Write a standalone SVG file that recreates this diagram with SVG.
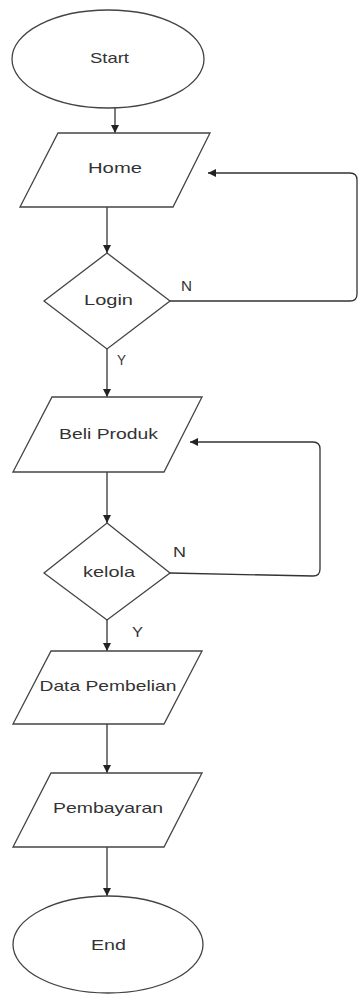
<svg xmlns="http://www.w3.org/2000/svg" width="358" height="994" viewBox="0 0 358 994">
  <style>
    .shape { fill: #ffffff; stroke: #444444; stroke-width: 1.3; }
    .edge { fill: none; stroke: #333333; stroke-width: 1.3; }
    .label { font-family: "Liberation Sans", Arial, sans-serif; font-size: 15px; fill: #333333; text-anchor: middle; }
    .tag { font-family: "Liberation Sans", Arial, sans-serif; font-size: 14px; fill: #333333; }
  </style>
  <defs>
    <marker id="arrow" viewBox="0 0 10 10" refX="10" refY="5" markerWidth="8" markerHeight="8" markerUnits="userSpaceOnUse" orient="auto">
      <path d="M0,0 L10,5 L0,10 z" fill="#222222"/>
    </marker>
  </defs>
  <rect width="358" height="994" fill="#ffffff"/>

  <g id="connectors">
    <path class="edge" d="M115,108 L115,133" marker-end="url(#arrow)"/>
    <path class="edge" d="M107,207 L107,253" marker-end="url(#arrow)"/>
    <path class="edge" d="M107,349 L107,397" marker-end="url(#arrow)"/>
    <path class="edge" d="M107,472 L107,523" marker-end="url(#arrow)"/>
    <path class="edge" d="M107,620 L107,651" marker-end="url(#arrow)"/>
    <path class="edge" d="M107,724 L107,773" marker-end="url(#arrow)"/>
    <path class="edge" d="M107,847 L107,896" marker-end="url(#arrow)"/>
    <!-- Login: N loops back to Home -->
    <path class="edge" d="M170,301 L350,301 Q357,301 357,294 L357,180 Q357,173 350,173 L208,173" marker-end="url(#arrow)"/>
    <!-- kelola: N loops back to Beli Produk -->
    <path class="edge" d="M170,573 L313,576 Q320,576 320,569 L320,449 Q320,442 313,442 L190,442" marker-end="url(#arrow)"/>
    <text class="tag" x="181" y="291" textLength="11" lengthAdjust="spacingAndGlyphs">N</text>
    <text class="tag" x="117" y="365" textLength="9" lengthAdjust="spacingAndGlyphs">Y</text>
    <text class="tag" x="173" y="557" textLength="13" lengthAdjust="spacingAndGlyphs">N</text>
    <text class="tag" x="132" y="637" textLength="11" lengthAdjust="spacingAndGlyphs">Y</text>
  </g>

  <g id="start">
    <ellipse class="shape" cx="108" cy="59" rx="96" ry="49"/>
    <text class="label" x="109.5" y="63" textLength="39" lengthAdjust="spacingAndGlyphs">Start</text>
  </g>

  <g id="home">
    <polygon class="shape" points="58,133 210,133 173,207 20,207"/>
    <text class="label" x="115" y="173" textLength="54" lengthAdjust="spacingAndGlyphs">Home</text>
  </g>

  <g id="login">
    <polygon class="shape" points="107,253 170,301 107,349 44,301"/>
    <text class="label" x="108.5" y="305" textLength="49" lengthAdjust="spacingAndGlyphs">Login</text>
  </g>

  <g id="beli-produk">
    <polygon class="shape" points="52,397 202,397 164,472 13,472"/>
    <text class="label" x="108.5" y="439" textLength="99" lengthAdjust="spacingAndGlyphs">Beli Produk</text>
  </g>

  <g id="kelola">
    <polygon class="shape" points="107,523 170,573 107,620 44,573"/>
    <text class="label" x="109" y="577" textLength="52" lengthAdjust="spacingAndGlyphs">kelola</text>
  </g>

  <g id="data-pembelian">
    <polygon class="shape" points="51,651 202,651 164,724 13,724"/>
    <text class="label" x="108" y="691" textLength="137" lengthAdjust="spacingAndGlyphs">Data Pembelian</text>
  </g>

  <g id="pembayaran">
    <polygon class="shape" points="51,773 202,773 164,847 13,847"/>
    <text class="label" x="108" y="813" textLength="110" lengthAdjust="spacingAndGlyphs">Pembayaran</text>
  </g>

  <g id="end">
    <ellipse class="shape" cx="108" cy="944.5" rx="95" ry="48.5"/>
    <text class="label" x="108.5" y="950" textLength="35" lengthAdjust="spacingAndGlyphs">End</text>
  </g>
</svg>
